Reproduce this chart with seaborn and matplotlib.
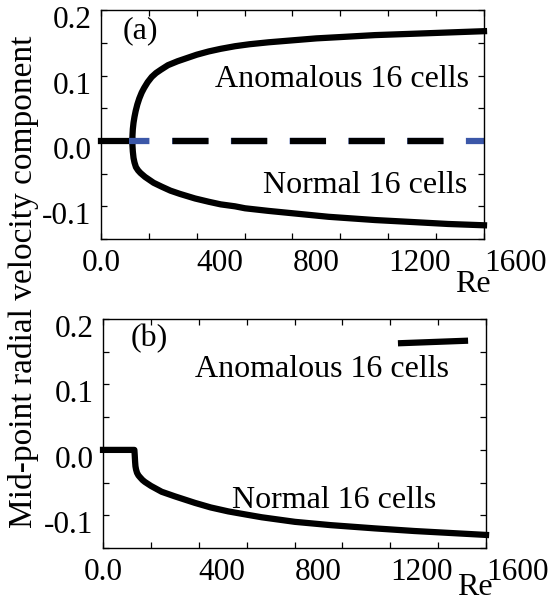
import numpy as np
import pandas as pd
import matplotlib
matplotlib.use("Agg")
import matplotlib.pyplot as plt
import matplotlib.transforms as mtransforms
import seaborn as sns

# ---------------- data ----------------
# basic state (v = 0): stable part, unstable part (blue dashed) and black dashed overlay
re_base_stable = [0, 118]
v_base_stable = [0.0, 0.0]
re_base_unstable = [118, 1600]
v_base_unstable = [0.0, 0.0]
re_base_unstable_inner = [250, 1480]
v_base_unstable_inner = [0.0, 0.0]

# panel (a): anomalous 16 cells (upper branch)
re_anom_a = [131, 131.5, 133, 136, 140, 145, 152, 160, 170, 180, 195, 212, 230, 250, 280, 320,
             360, 400, 450, 500, 560, 620, 700, 800, 900, 1000, 1145, 1300, 1450, 1600]
v_anom_a = [0.0, 0.008, 0.018, 0.028, 0.037, 0.046, 0.056, 0.065, 0.074, 0.081, 0.090, 0.098,
            0.104, 0.109, 0.116, 0.122, 0.127, 0.132, 0.137, 0.141, 0.145, 0.148, 0.151, 0.154,
            0.157, 0.159, 0.162, 0.164, 0.166, 0.168]
# panel (a): normal 16 cells (lower branch)
re_norm_a = [131, 131.5, 133, 136, 140, 146, 155, 165, 184, 200, 220, 254, 290, 330, 393, 450,
             500, 560, 602, 700, 811, 950, 1145, 1300, 1450, 1600]
v_norm_a = [0.0, -0.007, -0.016, -0.026, -0.033, -0.040, -0.045, -0.049, -0.055, -0.059, -0.064,
            -0.070, -0.076, -0.081, -0.088, -0.093, -0.097, -0.100, -0.103, -0.107, -0.111,
            -0.116, -0.121, -0.124, -0.127, -0.129]

# panel (b): normal 16 cells
re_norm_b = [0, 131, 132.5, 134, 135.5, 138, 142, 148, 155, 165, 175, 200, 245, 300, 384, 450,
             523, 600, 663, 802, 950, 1136, 1300, 1450, 1600]
v_norm_b = [0.0, 0.0, -0.008, -0.018, -0.025, -0.030, -0.035, -0.039, -0.042, -0.046, -0.049,
            -0.055, -0.064, -0.071, -0.081, -0.088, -0.094, -0.099, -0.103, -0.110, -0.115,
            -0.120, -0.124, -0.127, -0.130]
# panel (b): anomalous 16 cells (short segment)
re_anom_b = [1232, 1525]
v_anom_b = [0.163, 0.167]

x_ticks = [0, 400, 800, 1200, 1600]
x_tick_labels = ["0.0", "400", "800", "1200", "1600"]
y_ticks = [-0.1, 0.0, 0.1, 0.2]
y_tick_labels = ["-0.1", "0.0", "0.1", "0.2"]

# ---------------- style ----------------
sns.set_theme(style="ticks")
plt.rcParams.update({
    "font.family": ["Liberation Serif", "DejaVu Serif"],
    "axes.edgecolor": "black",
    "axes.linewidth": 1.0,
    "axes.facecolor": "white",
    "figure.facecolor": "white",
    "text.color": "black",
    "xtick.color": "black",
    "ytick.color": "black",
    "lines.scale_dashes": False,
})

BLUE = "#3b57a8"
LW = 4.5
FS = 23
DPI = 100

fig = plt.figure(figsize=(5.5, 6.04), dpi=DPI)
ax_a = fig.add_axes([0.1836, 0.6043, 0.6964, 0.3787])
ax_b = fig.add_axes([0.1873, 0.0927, 0.6964, 0.3790])


def style_axes(ax):
    ax.set_xlim(x_ticks[0], x_ticks[-1])
    ax.set_ylim(-0.15, 0.2)
    ax.set_xticks(x_ticks)
    ax.set_xticklabels(x_tick_labels)
    xt = np.array(x_ticks, dtype=float)
    ax.set_xticks((xt[:-1] + xt[1:]) / 2, minor=True)
    ax.set_yticks(y_ticks)
    ax.set_yticklabels(y_tick_labels)
    yt = np.array(y_ticks, dtype=float)
    ax.set_yticks(np.append((yt[:-1] + yt[1:]) / 2, yt[0] - 0.05), minor=True)
    ax.tick_params(axis="both", which="both", direction="in", top=True, right=True,
                   length=4, width=0.9, colors="black")
    ax.tick_params(axis="both", which="major", labelsize=22.5, pad=7)
    ax.set_xlabel("")
    ax.set_ylabel("")
    for s in ax.spines.values():
        s.set_visible(True)
        s.set_color("black")
        s.set_linewidth(1.0)
    labels = ax.get_xticklabels()
    for i, lbl in enumerate(labels):
        lbl.set_horizontalalignment("center" if i == 0 else "left")
    off = mtransforms.ScaledTranslation(0, -5 / 72, fig.dpi_scale_trans)
    for lbl in ax.get_yticklabels():
        lbl.set_transform(lbl.get_transform() + off)


style_axes(ax_a)
style_axes(ax_b)

solid_kw = dict(color="black", linewidth=LW, estimator=None, sort=False,
                solid_capstyle="projecting", solid_joinstyle="round", clip_on=False,
                legend=False)

# ---- panel (a) ----
sns.lineplot(x=re_base_stable, y=v_base_stable, ax=ax_a, **solid_kw)
sns.lineplot(x=re_anom_a, y=v_anom_a, ax=ax_a, **solid_kw)
sns.lineplot(x=re_norm_a, y=v_norm_a, ax=ax_a, **solid_kw)

# dashed basic state: blue underneath, black dashes over the inner range (same phase)
px_per_pt = DPI / 72.0
on_px, off_px, phase_px = 36.0, 22.75, 15.6
period_px = on_px + off_px
x0 = ax_a.transData.transform((re_base_unstable[0], 0))[0]
x1 = ax_a.transData.transform((re_base_unstable_inner[0], 0))[0]
black_phase_px = (phase_px + (x1 - x0)) % period_px

sns.lineplot(x=re_base_unstable, y=v_base_unstable, ax=ax_a, color=BLUE, linewidth=LW,
             estimator=None, sort=False, clip_on=False, legend=False)
ax_a.lines[-1].set_linestyle((phase_px / px_per_pt, (on_px / px_per_pt, off_px / px_per_pt)))
ax_a.lines[-1].set_dash_capstyle("butt")
sns.lineplot(x=re_base_unstable_inner, y=v_base_unstable_inner, ax=ax_a, color="black",
             linewidth=LW, estimator=None, sort=False, clip_on=False, legend=False)
ax_a.lines[-1].set_linestyle((black_phase_px / px_per_pt, (on_px / px_per_pt, off_px / px_per_pt)))
ax_a.lines[-1].set_dash_capstyle("butt")

ax_a.text(0.102, 0.909, "(a)", transform=ax_a.transAxes, ha="center", va="center", fontsize=FS)
ax_a.text(0.6305, 0.663, "Anomalous 16 cells", transform=ax_a.transAxes, ha="center",
          va="baseline", fontsize=FS)
ax_a.text(0.689, 0.2025, "Normal 16 cells", transform=ax_a.transAxes, ha="center",
          va="baseline", fontsize=FS)
ax_a.text(0.97, -0.232, "Re", transform=ax_a.transAxes, ha="center", va="baseline", fontsize=FS)

# ---- panel (b) ----
sns.lineplot(x=re_norm_b, y=v_norm_b, ax=ax_b, **solid_kw)
sns.lineplot(x=re_anom_b, y=v_anom_b, ax=ax_b, color="black", linewidth=LW, estimator=None,
             sort=False, solid_capstyle="butt", legend=False)

ax_b.text(0.120, 0.913, "(b)", transform=ax_b.transAxes, ha="center", va="center", fontsize=FS)
ax_b.text(0.572, 0.745, "Anomalous 16 cells", transform=ax_b.transAxes, ha="center",
          va="baseline", fontsize=FS)
ax_b.text(0.6045, 0.173, "Normal 16 cells", transform=ax_b.transAxes, ha="center",
          va="baseline", fontsize=FS)
ax_b.text(0.97, -0.205, "Re", transform=ax_b.transAxes, ha="center", va="baseline", fontsize=FS)

fig.text(0.042, 0.533, "Mid-point radial velocity component", rotation=90, ha="center",
         va="center", fontsize=24)

fig.savefig("out.png", dpi=DPI)
